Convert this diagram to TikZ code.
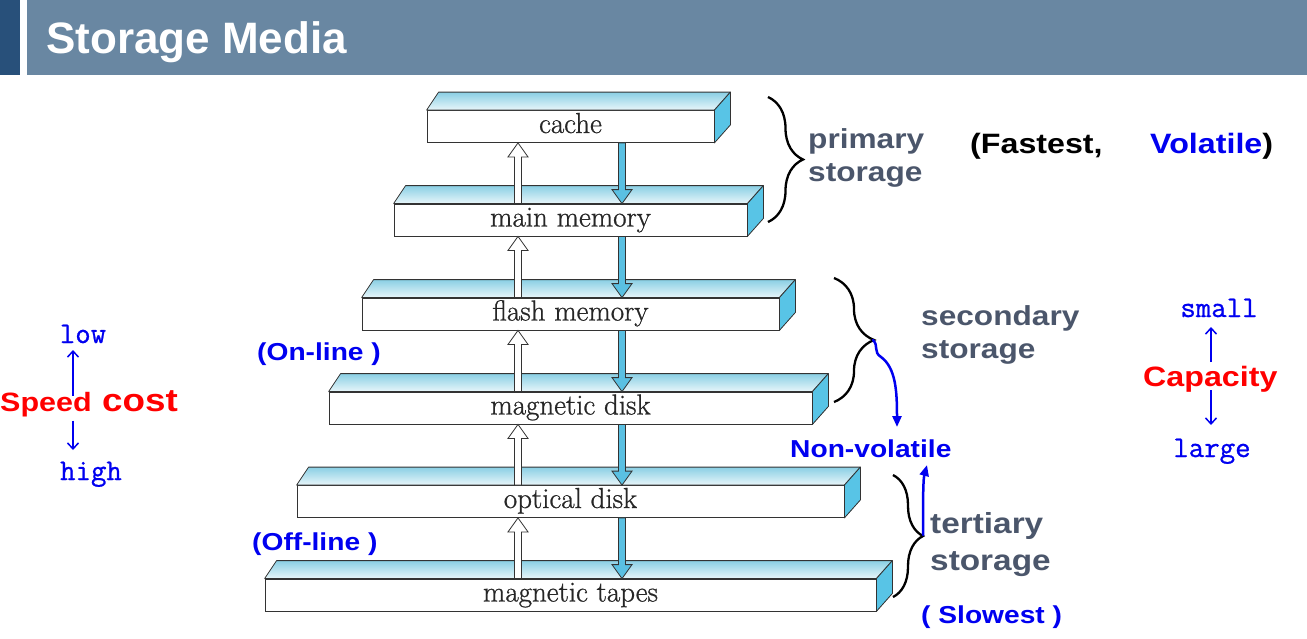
\documentclass[tikz,border=0pt]{standalone}
\usepackage{fontspec}
\usetikzlibrary{calc,decorations.pathreplacing,arrows.meta}

\newfontfamily\headfont{Liberation Sans}
\newfontfamily\notefont[FakeStretch=1.15]{Liberation Sans}
\newfontfamily\scalefont[FakeBold=0.8]{Latin Modern Mono}
\newfontfamily\slabfont[FakeBold=0.8]{Latin Modern Roman}

\definecolor{barblue}{HTML}{6987A2}
\definecolor{bardark}{HTML}{28507A}
\definecolor{edge}{HTML}{333333}
\definecolor{topback}{HTML}{8ACFE4}
\definecolor{topfront}{HTML}{E8F6FA}
\definecolor{sideblue}{HTML}{58C4E6}
\definecolor{arrowblue}{HTML}{5AC0E2}
\definecolor{slate}{HTML}{4B566B}
\definecolor{vblue}{HTML}{0000F0}
\definecolor{vred}{HTML}{FF0000}

\tikzset{
  slab/.style={draw=edge, line width=0.8pt, fill=white, inner sep=0pt,
    minimum height=32pt, text height=19pt, text depth=6pt,
    font=\slabfont\fontsize{29}{32}\selectfont, text=black!85},
  topface/.style={draw=edge, line width=0.8pt, line join=round,
    top color=topback, bottom color=topfront},
  sideface/.style={draw=edge, line width=0.8pt, line join=round, fill=sideblue},
  upflow/.style={draw=edge, line width=0.8pt, fill=white},
  downflow/.style={draw=edge, line width=0.8pt, fill=arrowblue},
  bracket/.style={draw=black, line width=2.3pt, decorate,
    decoration={brace, amplitude=#1}},
  note/.style={inner sep=0pt, anchor=base west,
    font=\notefont\bfseries\fontsize{#1}{#1}\selectfont},
  scaletext/.style={inner sep=0pt, anchor=base, text=vblue,
    font=\scalefont\fontsize{30}{30}\selectfont},
  scalearrow/.style={draw=vblue, line width=1.5pt,
    -{Straight Barb[length=6pt,width=11pt]}},
  bluecurve/.style={draw=vblue, line width=2.5pt, line cap=round,
    -{Triangle[width=9pt,length=11pt]}},
}

% top and right faces of a slab whose front face is node #1
\newcommand\slabfaces[1]{%
  \draw[topface] (#1.north west) -- (#1.north east) -- ++(16,-18)
    -- ($(#1.north west)+(12,-18)$) -- cycle;
  \draw[sideface] (#1.north east) -- ++(16,-18)
    -- ($(#1.south east)+(16,-18)$) -- (#1.south east) -- cycle;
}

% hollow up arrow and blue down arrow between lower slab #1 and upper slab #2
\newcommand\flowpair[2]{%
  \coordinate (ub) at (518,0 |- #1.north);
  \coordinate (ut) at (518,0 |- #2.south);
  \draw[upflow] ($(ub)+(-3.5,0)$) -- ($(ut)+(-3.5,14)$) -- ($(ut)+(-10,14)$)
    -- (ut) -- ($(ut)+(10,14)$) -- ($(ut)+(3.5,14)$) -- ($(ub)+(3.5,0)$) -- cycle;
  \coordinate (dt) at (622,0 |- #2.south);
  \coordinate (db) at (622,0 |- #1.north);
  \draw[downflow] ($(dt)+(-3.5,0)$) -- ($(db)+(-3.5,-14)$) -- ($(db)+(-10,-14)$)
    -- (db) -- ($(db)+(10,-14)$) -- ($(db)+(3.5,-14)$) -- ($(dt)+(3.5,0)$) -- cycle;
}

\begin{document}
\begin{tikzpicture}[x=1pt, y=-1pt]
\useasboundingbox (0,0) rectangle (1307,638);

% title bar
\fill[bardark] (0,0) rectangle (20,75);
\fill[barblue] (27,0) rectangle (1307,75);
\node[inner sep=0pt, anchor=base west, text=white,
  font=\headfont\bfseries\fontsize{44}{44}\selectfont] (title) at (46,53) {Storage Media};

% storage hierarchy slabs
\node[slab, minimum width=287pt] (cache)  at (570.5,126.5) {cache};
\node[slab, minimum width=353pt] (main)   at (570.5,220)   {main memory};
\node[slab, minimum width=417pt] (flash)  at (570.5,314)   {flash memory};
\node[slab, minimum width=483pt] (mdisk)  at (570.5,408)   {magnetic disk};
\node[slab, minimum width=547pt] (odisk)  at (570.5,501.5) {optical disk};
\node[slab, minimum width=611pt] (tapes)  at (570.5,595)   {magnetic tapes};

\slabfaces{cache}
\slabfaces{main}
\slabfaces{flash}
\slabfaces{mdisk}
\slabfaces{odisk}
\slabfaces{tapes}

\flowpair{main}{cache}
\flowpair{flash}{main}
\flowpair{mdisk}{flash}
\flowpair{odisk}{mdisk}
\flowpair{tapes}{odisk}

% braces grouping the levels
\draw[bracket=35pt] (768,97) -- (768,222);
\draw[bracket=40pt] (834,278) -- (834,402);
\draw[bracket=30pt] (893,475) -- (893,597);
\coordinate (sectip) at (873,340);
\coordinate (tertip) at (923,535);

% group labels
\node[note=27.5, text=slate] (prim1) at (808,148) {primary};
\node[note=27.5, text=slate] (prim2) at (808,181) {storage};
\node[note=28] (fast) at (970,153) {(Fastest,};
\node[note=28] (vol) at (1150,153) {\textcolor{vblue}{Volatile})};
\node[note=27.5, text=slate] (sec1) at (921,325) {secondary};
\node[note=27.5, text=slate] (sec2) at (921,358) {storage};
\node[note=29, text=slate] (ter1) at (930,533) {tertiary};
\node[note=29, text=slate] (ter2) at (930,570) {storage};
\node[note=24.5, text=vblue] (slow) at (921,623) {( Slowest )};
\node[note=24.5, text=vblue] (online) at (257,360) {(On-line )};
\node[note=24.5, text=vblue] (offline) at (252,550) {(Off-line )};
\node[note=24.5, text=vblue] (nonvol) at (790,457) {Non-volatile};

% non-volatile pointers
\coordinate (nvtop) at (897,427);
\coordinate (nvbot) at (927,465);
\draw[bluecurve] (sectip) .. controls (879,346) and (873,352) .. (881,357)
  .. controls (896,368) and (897,392) .. (nvtop);
\draw[bluecurve] (tertip) .. controls (923,505) and (923,480) .. (nvbot);

% speed / cost scale
\node[note=26.5, text=vred] (speed) at (0,411) {Speed};
\node[note=32, text=vred] (cost) at (102,411) {cost};
\node[scaletext] (low) at (83,343) {low};
\node[scaletext] (high) at (91,480) {high};
\coordinate (lowfoot) at (73,350);
\coordinate (highhead) at (73,450);
\draw[scalearrow] (speed.north -| lowfoot) ++(0,4) -- (lowfoot);
\draw[scalearrow] (speed.south -| highhead) ++(0,4) -- (highhead);

% capacity scale
\node[note=28, text=vred] (cap) at (1143,386) {Capacity};
\node[scaletext] (small) at (1219,317) {small};
\node[scaletext] (large) at (1212,457) {large};
\coordinate (smallfoot) at (1211,327);
\coordinate (largehead) at (1211,425);
\draw[scalearrow] (1211,362) coordinate (capup) -- (smallfoot);
\draw[scalearrow] (1211,390) coordinate (capdown) -- (largehead);
\end{tikzpicture}
\end{document}
